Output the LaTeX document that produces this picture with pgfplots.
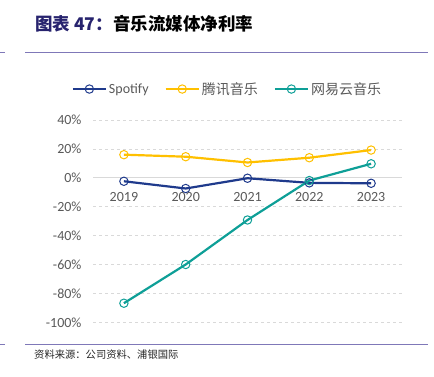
\documentclass[border=0pt]{standalone}
\usepackage{fontspec}
\usepackage{pgfplots}
\pgfplotsset{compat=1.18}
\setmainfont{Carlito}
\newfontfamily\cjk{Noto Sans CJK SC}
\definecolor{spot}{HTML}{1F3A8C}
\definecolor{tenc}{HTML}{FFC000}
\definecolor{nete}{HTML}{0E9F97}
\definecolor{rulec}{HTML}{7F78B8}
\definecolor{navy}{HTML}{27236E}
\definecolor{tickc}{HTML}{595959}
\definecolor{grd}{HTML}{D9D9D9}
\begin{document}
\begin{tikzpicture}
\useasboundingbox (0,0) rectangle (434pt,376pt);
\node[anchor=west, inner sep=0pt] at (35pt,352pt) {\cjk\fontsize{17.5}{19}\selectfont\bfseries \textcolor{navy}{图表 47：}音乐流媒体净利率};
\draw[rulec, line width=0.8pt] (0pt,324pt) -- (5pt,324pt) (25pt,324pt) -- (428pt,324pt);
\draw[rulec, line width=0.8pt] (0pt,32pt) -- (5pt,32pt) (25pt,32pt) -- (428pt,32pt);
\node[anchor=west, inner sep=0pt, text=black!85] at (34pt,21pt) {\cjk\fontsize{10.3}{12}\selectfont 资料来源：公司资料、浦银国际};
\begin{axis}[
  at={(93pt,53.7pt)}, anchor=south west,
  width=309pt, height=202.3pt, scale only axis,
  xmin=-0.5, xmax=4.5, ymin=-100, ymax=40,
  axis x line=middle, axis y line=left,
  x axis line style={-, draw=grd, line width=0.8pt},
  y axis line style={draw=none},
  major tick length=0pt,
  xtick={0,1,2,3,4}, xticklabels={2019,2020,2021,2022,2023},
  ytick={-100,-80,-60,-40,-20,0,20,40},
  yticklabels={-100\%,-80\%,-60\%,-40\%,-20\%,0\%,20\%,40\%},
  ymajorgrids, grid style={draw=grd, dashed, line width=0.8pt},
  tick label style={font=\fontsize{14}{16}\selectfont, text=tickc},
  y tick label style={anchor=east, xshift=-8pt},
  x tick label style={anchor=north, yshift=-11pt},
  clip=false,
  legend columns=3,
  legend style={at={(0.435,1.153)}, anchor=center, draw=none, fill=none,
    font=\fontsize{14}{16}\selectfont, text=tickc,
    /tikz/every even column/.append style={column sep=14pt}},
  legend cell align=left,
  legend image code/.code={\draw[#1, mark repeat=2, mark phase=2] plot coordinates {(0pt,0pt) (16.5pt,0pt) (33pt,0pt)};},
  every axis plot/.append style={line width=2.2pt, mark=o, mark size=4.2pt, mark options={fill=white, line width=1pt, solid}},
]
\addplot[spot] coordinates {(0,-2.4) (1,-7.4) (2,-0.3) (3,-3.5) (4,-3.8)};
\addlegendentry{Spotify}
\addplot[tenc] coordinates {(0,16.0) (1,14.6) (2,10.6) (3,13.9) (4,19.2)};
\addlegendentry{\cjk 腾讯音乐}
\addplot[nete] coordinates {(0,-86.8) (1,-60.0) (2,-29.2) (3,-1.9) (4,9.7)};
\addlegendentry{\cjk 网易云音乐}
\end{axis}
\end{tikzpicture}
\end{document}
